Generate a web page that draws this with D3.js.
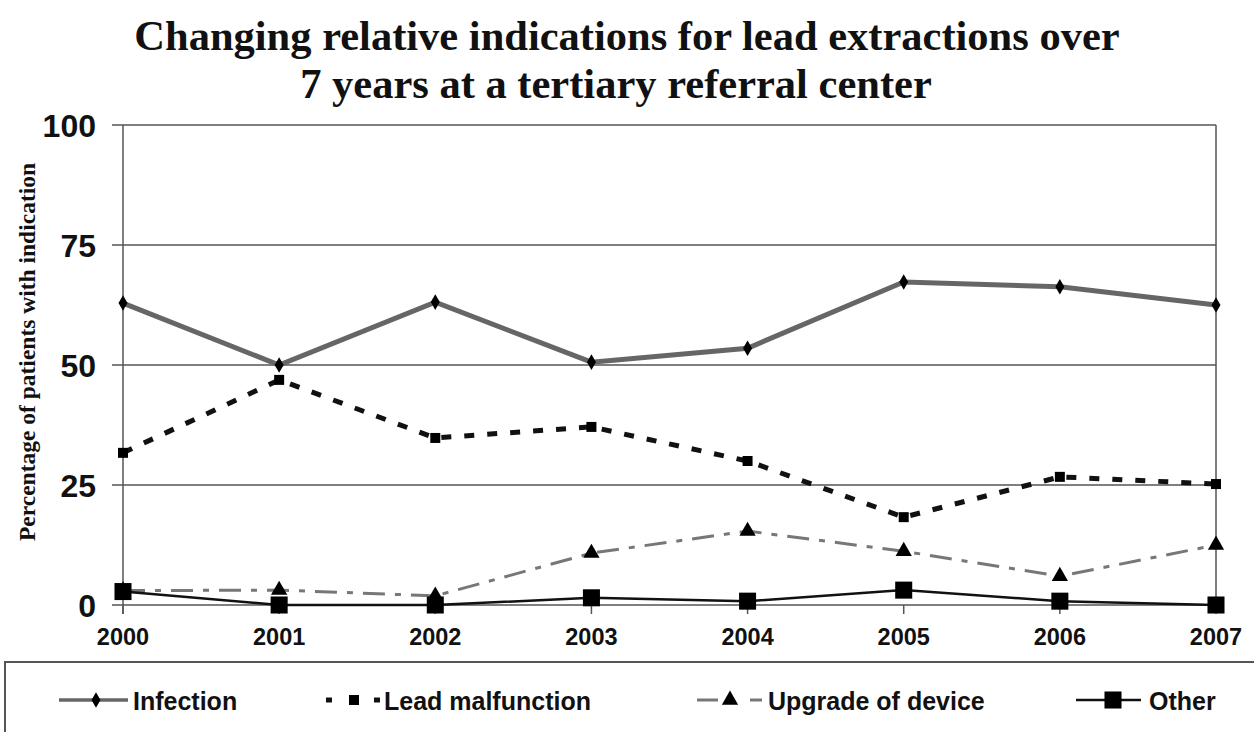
<!DOCTYPE html>
<html><head><meta charset="utf-8">
<script src="https://cdn.jsdelivr.net/npm/d3@7"></script>
<style>body{margin:0;background:#fff}svg{display:block}</style>
</head><body>
<svg id="c" width="1254" height="732"></svg>
<script>
const years = ["2000","2001","2002","2003","2004","2005","2006","2007"];
const infection = [62.9, 50.0, 63.1, 50.6, 53.5, 67.3, 66.3, 62.5];
const leadMalfunction = [31.7, 46.9, 34.8, 37.1, 30.0, 18.3, 26.7, 25.2];
const upgrade = [3.0, 3.1, 1.9, 10.8, 15.4, 11.2, 6.0, 12.5];
const other = [2.8, 0.0, 0.0, 1.5, 0.8, 3.1, 0.8, 0.0];
const yTicks = [0, 25, 50, 75, 100];
const titleLines = ["Changing relative indications for lead extractions over", "7 years at a tertiary referral center"];
const yLabel = "Percentage of patients with indication";
const seriesNames = ["Infection", "Lead malfunction", "Upgrade of device", "Other"];

const svg = d3.select("#c");
const L = 123, R = 1216, T = 125, B = 605;
const x = d3.scalePoint().domain(years).range([L, R]);
const y = d3.scaleLinear().domain([0, 100]).range([B, T]);

// title
const titleX = [627, 616];
svg.append("g").selectAll("text").data(titleLines).join("text")
  .attr("x", (d, i) => titleX[i]).attr("y", (d, i) => 50 + i * 48)
  .attr("text-anchor", "middle")
  .attr("font-family", "Liberation Serif, Times New Roman, serif")
  .attr("font-weight", "bold").attr("font-size", 42.5).attr("fill", "#111")
  .text(d => d);

// gridlines
svg.append("g").selectAll("line").data(yTicks).join("line")
  .attr("x1", L - 11).attr("x2", R).attr("y1", d => y(d)).attr("y2", d => y(d))
  .attr("stroke", "#555").attr("stroke-width", 1.5);
// axes
svg.append("line").attr("x1", L).attr("x2", L).attr("y1", T).attr("y2", B + 9).attr("stroke", "#555").attr("stroke-width", 1.5);
svg.append("line").attr("x1", R).attr("x2", R).attr("y1", T).attr("y2", B).attr("stroke", "#555").attr("stroke-width", 1.5);
svg.append("g").selectAll("line").data(years).join("line")
  .attr("x1", d => x(d)).attr("x2", d => x(d)).attr("y1", B).attr("y2", B + 9)
  .attr("stroke", "#555").attr("stroke-width", 1.5);

// tick labels
svg.append("g").selectAll("text").data(yTicks).join("text")
  .attr("x", 96).attr("y", d => y(d) + 12).attr("text-anchor", "end")
  .attr("font-family", "Liberation Sans, Arial, sans-serif").attr("font-weight", "bold")
  .attr("font-size", 32).attr("fill", "#111").text(d => d);
svg.append("g").selectAll("text").data(years).join("text")
  .attr("x", d => x(d)).attr("y", 645).attr("text-anchor", "middle")
  .attr("font-family", "Liberation Sans, Arial, sans-serif").attr("font-weight", "bold")
  .attr("font-size", 23.5).attr("fill", "#111").text(d => d);

// y label
svg.append("text").attr("transform", "translate(35,352) rotate(-90)")
  .attr("text-anchor", "middle")
  .attr("font-family", "Liberation Serif, Times New Roman, serif").attr("font-weight", "bold")
  .attr("font-size", 23.5).attr("fill", "#111").text(yLabel);

const styles = [
  {data: infection, stroke: "#666", width: 5, dash: null, marker: "diamond", msize: 70},
  {data: leadMalfunction, stroke: "#111", width: 5, dash: "10,13", marker: "square", msize: 100},
  {data: upgrade, stroke: "#777", width: 3, dash: "22,10,6,10", marker: "triangle", msize: 115},
  {data: other, stroke: "#111", width: 2.5, dash: null, marker: "square", msize: 290}
];
const symMap = {diamond: d3.symbolDiamond, square: d3.symbolSquare, triangle: d3.symbolTriangle};
const line = d3.line().x((d, i) => x(years[i])).y(d => y(d));

styles.forEach(s => {
  svg.append("path").attr("d", line(s.data)).attr("fill", "none")
    .attr("stroke", s.stroke).attr("stroke-width", s.width)
    .attr("stroke-dasharray", s.dash);
  svg.append("g").selectAll("path").data(s.data).join("path")
    .attr("transform", (d, i) => `translate(${x(years[i])},${y(d)})`)
    .attr("d", d3.symbol().type(symMap[s.marker]).size(s.msize)).attr("fill", "#000");
});

// legend
svg.append("rect").attr("x", 5).attr("y", 662).attr("width", 1260).attr("height", 90)
  .attr("fill", "none").attr("stroke", "#555").attr("stroke-width", 2);
const legLine = [[59, 128, null, 96], [326, 380, "6,18", 354], [697, 762, "21,32,12", 730], [1076, 1141, null, 1113]];
const legText = [133, 384, 768, 1149];
const legW = [3.5, 5, 3, 2.5];
styles.forEach((s, i) => {
  const g = svg.append("g");
  const [x0, x1, dash, mx] = legLine[i], ly = 700;
  g.append("line").attr("x1", x0).attr("x2", x1).attr("y1", ly).attr("y2", ly)
    .attr("stroke", s.stroke).attr("stroke-width", legW[i]).attr("stroke-dasharray", dash);
  g.append("path").attr("transform", `translate(${mx},${ly})`)
    .attr("d", d3.symbol().type(symMap[s.marker]).size(s.msize)).attr("fill", "#000");
  g.append("text").attr("x", legText[i]).attr("y", 710)
    .attr("font-family", "Liberation Sans, Arial, sans-serif").attr("font-weight", "bold")
    .attr("font-size", 25).attr("fill", "#111").text(seriesNames[i]);
});
</script>
</body></html>
